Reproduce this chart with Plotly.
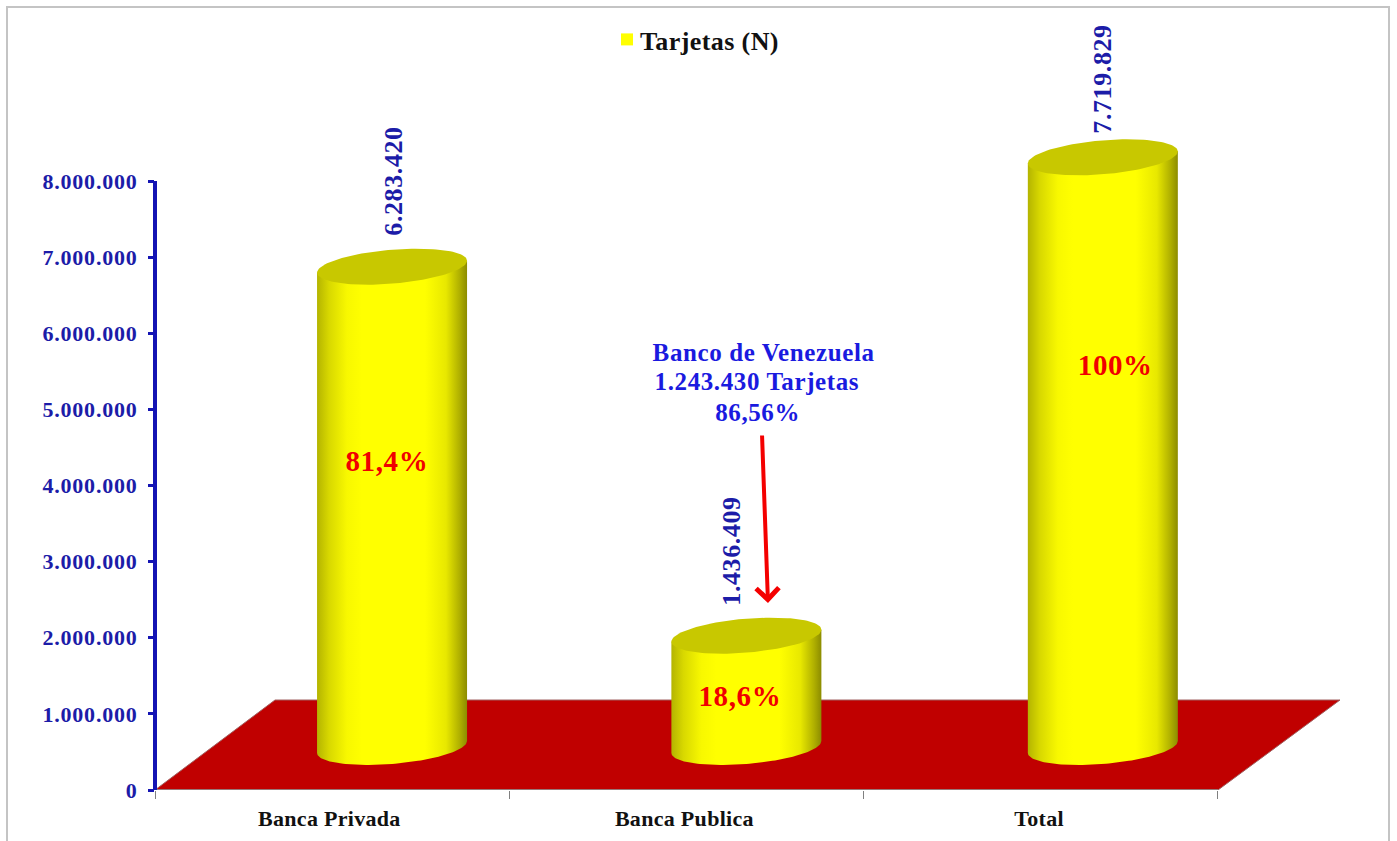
import numpy as np
import plotly.graph_objects as go

# ---- data ----
categories = ["Banca Privada", "Banca Publica", "Total"]
tarjetas = [6283420, 1436409, 7719829]
value_labels = ["6.283.420", "1.436.409", "7.719.829"]
share_labels = ["81,4%", "18,6%", "100%"]
y_ticks = [0, 1000000, 2000000, 3000000, 4000000, 5000000, 6000000, 7000000, 8000000]
y_tick_labels = ["0", "1.000.000", "2.000.000", "3.000.000", "4.000.000",
                 "5.000.000", "6.000.000", "7.000.000", "8.000.000"]
note_lines = ["Banco de Venezuela", "1.243.430 Tarjetas", "86,56%"]

# ---- geometry (pixels on the 1397x841 page <-> axis units) ----
W, H = 1397, 841
L, R, T, B = 155, 1340, 0, 790
PX_PER_CAT = 354.33
PX_PER_UNIT = 76.125e-6
xr = (R - L) / PX_PER_CAT
yr = (B - T) / PX_PER_UNIT


def dx(px):
    return (px - L) / PX_PER_CAT


def dy(py):
    return (B - py) / PX_PER_UNIT


SERIF = "Liberation Serif"
NAVY = "#1c1ca8"
BLUE = "#1a1adf"
RED = "#f00000"
FLOOR = "#c00000"

fig = go.Figure()

# floor
fig.add_trace(go.Scatter(
    x=[0, dx(275), dx(1340), 3, 0], y=[0, dy(700), dy(700), 0, 0],
    mode="lines", fill="toself", fillcolor=FLOOR,
    line=dict(color="#a06060", width=1), hoverinfo="skip", showlegend=False))

# cylinders
centres = [0.669, 1.669, 2.675]
half_w = 75 / PX_PER_CAT
tilt = 6 / PX_PER_UNIT
semi = 17 / PX_PER_UNIT
depth_top = dy(745)
depth_bottom = dy(747)
t = np.linspace(0, 2 * np.pi, 121)
body_scale = [[0, "#b4b400"], [0.08, "#d8d800"], [0.2, "#f8f800"], [0.3, "#ffff00"],
              [0.72, "#ffff00"], [0.86, "#e8e800"], [0.95, "#b0b000"], [1, "#8c8c00"]]
for cx, v in zip(centres, tarjetas):
    top_c = v + depth_top
    a = np.linspace(np.pi, 0, 81)
    xs_top = cx + half_w * np.cos(a)
    ys_top = top_c + tilt * np.cos(a)
    b = np.linspace(0, -np.pi, 81)
    xs_bot = cx + half_w * np.cos(b)
    ys_bot = depth_bottom + tilt * np.cos(b) + semi * np.sin(b)
    fig.add_trace(go.Scatter(
        x=np.r_[xs_top, xs_bot], y=np.r_[ys_top, ys_bot],
        mode="lines", fill="toself", line=dict(width=0, color="rgba(0,0,0,0)"),
        fillgradient=dict(type="horizontal", colorscale=body_scale),
        hoverinfo="skip", showlegend=False))
    fig.add_trace(go.Scatter(
        x=cx + half_w * np.cos(t),
        y=top_c + tilt * np.cos(t) + semi * np.sin(t),
        mode="lines", fill="toself", fillcolor="#c8c800",
        line=dict(width=0, color="#c8c800"), hoverinfo="skip", showlegend=False))

# x axis line
fig.add_trace(go.Scatter(x=[0, 3], y=[0, 0], mode="lines",
                         line=dict(color="#909090", width=1.5),
                         hoverinfo="skip", showlegend=False))

# legend entry
fig.add_trace(go.Scatter(x=[None], y=[None], mode="markers", name="Tarjetas (N)",
                         marker=dict(symbol="square", size=12, color="#ffff00")))

ann = []
# rotated value labels
val_px = [(393, 181), (731, 551), (1102, 79)]
for lab, (px, py) in zip(value_labels, val_px):
    ann.append(dict(x=dx(px), y=dy(py), xref="x", yref="y", text=f"<b>{lab}</b>",
                    textangle=-90, showarrow=False,
                    font=dict(family=SERIF, size=26, color=NAVY)))
# share labels
share_px = [(387, 461), (740, 696), (1115, 365)]
for lab, (px, py) in zip(share_labels, share_px):
    ann.append(dict(x=dx(px), y=dy(py), xref="x", yref="y", text=f"<b>{lab}</b>",
                    showarrow=False, font=dict(family=SERIF, size=29, color=RED)))
# note
note_px = [(764, 352), (757, 381), (757, 412)]
for lab, (px, py) in zip(note_lines, note_px):
    ann.append(dict(x=dx(px), y=dy(py), xref="x", yref="y", text=f"<b>{lab}</b>",
                    showarrow=False, font=dict(family=SERIF, size=25, color=BLUE)))
# arrow
ann.append(dict(x=dx(768), y=dy(603), ax=dx(762), ay=dy(434),
                xref="x", yref="y", axref="x", ayref="y", text="",
                showarrow=True, arrowhead=4, arrowsize=1.1, arrowwidth=4, arrowcolor="#f40000"))

# frame and the value axis line
shapes = [dict(type="rect", xref="paper", yref="paper",
               x0=(7 - L) / (R - L), x1=(1389 - L) / (R - L),
               y0=(B - 860) / (B - T), y1=(B - 7) / (B - T),
               line=dict(color="#c4c4c4", width=2), layer="below"),
          dict(type="line", xref="paper", yref="y", x0=0, x1=0, y0=0, y1=y_ticks[-1],
               line=dict(color="#1414b4", width=4))]

fig.update_layout(
    width=W, height=H,
    margin=dict(l=L, r=W - R, t=T, b=H - B, pad=0),
    paper_bgcolor="white", plot_bgcolor="white",
    font=dict(family=SERIF),
    showlegend=True,
    legend=dict(x=(600 - L) / (R - L), y=(B - 16) / (B - T), xanchor="left", yanchor="top",
                bgcolor="rgba(0,0,0,0)", itemsizing="constant",
                font=dict(family=SERIF, size=26, color="#111111", weight="bold")),
    xaxis=dict(range=[0, xr], showgrid=False, zeroline=False, showline=False,
               tickmode="array", tickvals=[0.492, 1.494, 2.495], ticktext=categories,
               ticks="", ticklabelstandoff=13,
               tickfont=dict(family=SERIF, size=22, color="#111111", weight="bold"),
               minor=dict(tickmode="array", tickvals=[0, 1, 2, 3], ticks="outside",
                          ticklen=8, tickwidth=1, tickcolor="#808080", showgrid=False)),
    yaxis=dict(range=[0, yr], showgrid=False, zeroline=False, showline=False,
               tickmode="array", tickvals=y_ticks, ticktext=y_tick_labels,
               ticks="outside", ticklen=6, tickwidth=3, tickcolor="#1414b4",
               ticklabelstandoff=6,
               tickfont=dict(family=SERIF, size=22, color=NAVY, weight="bold")),
    annotations=ann, shapes=shapes,
)

css = (".ytick text{letter-spacing:.8px}"
       ".xtick text{letter-spacing:.3px}"
       ".annotation-text{letter-spacing:.6px}"
       ".legendtext{letter-spacing:.4px}"
       ".legendsymbols{transform:translate(7px,0)}")
post = ("document.body.style.margin='0';document.body.style.overflow='hidden';"
        "var s=document.createElement('style');s.textContent='" + css + "';"
        "document.head.appendChild(s);")
fig.write_html("out.html", config=dict(displayModeBar=False), post_script=post)
